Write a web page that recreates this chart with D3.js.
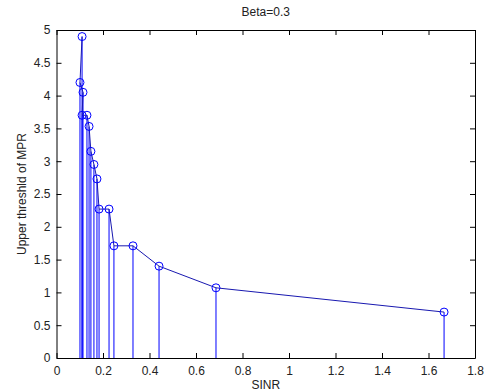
<!DOCTYPE html>
<html>
<head>
<meta charset="utf-8">
<script src="https://cdn.jsdelivr.net/npm/d3@7"></script>
<style>
  html, body { margin: 0; padding: 0; background: #fff; }
  text { font-family: "Liberation Sans", Arial, sans-serif; fill: #222; }
</style>
</head>
<body>
<svg id="chart" width="484" height="391"></svg>
<script>
// Stem plot of upper MPR threshold vs SINR, Beta = 0.3 (MATLAB style)

const sinr = [0.110, 0.101, 0.114, 0.110, 0.131, 0.140, 0.148, 0.161,
              0.174, 0.183, 0.226, 0.247, 0.329, 0.441, 0.686, 1.667];
const mpr = [4.9, 4.2, 4.05, 3.7, 3.7, 3.53, 3.15, 2.95,
             2.73, 2.27, 2.27, 1.71, 1.71, 1.4, 1.07, 0.7];
const xTicks = [0, 0.2, 0.4, 0.6, 0.8, 1, 1.2, 1.4, 1.6, 1.8];
const yTicks = [0, 0.5, 1, 1.5, 2, 2.5, 3, 3.5, 4, 4.5, 5];

const margin = { left: 56.5, right: 9, top: 30, bottom: 33 };
const W = 484, H = 391;
const width = W - margin.left - margin.right;
const height = H - margin.top - margin.bottom;

const svg = d3.select("#chart");
const g = svg.append("g").attr("transform", `translate(${margin.left},${margin.top})`);

const x = d3.scaleLinear().domain([0, 1.8]).range([0, width]);
const y = d3.scaleLinear().domain([0, 5]).range([height, 0]);

const fmt = (d) => String(d);
const tickLen = 5;

// axes, MATLAB ticks point inward
const axBottom = g.append("g").attr("transform", `translate(0,${height})`)
  .call(d3.axisBottom(x).tickValues(xTicks).tickFormat(fmt).tickSizeInner(-tickLen).tickSizeOuter(0).tickPadding(8));
const axTop = g.append("g")
  .call(d3.axisTop(x).tickValues(xTicks).tickFormat("").tickSizeInner(-tickLen).tickSizeOuter(0));
const axLeft = g.append("g")
  .call(d3.axisLeft(y).tickValues(yTicks).tickFormat(fmt).tickSizeInner(-tickLen).tickSizeOuter(0).tickPadding(6));
const axRight = g.append("g").attr("transform", `translate(${width},0)`)
  .call(d3.axisRight(y).tickValues(yTicks).tickFormat("").tickSizeInner(-tickLen).tickSizeOuter(0));

[axBottom, axTop, axLeft, axRight].forEach((a) => {
  a.selectAll(".domain").attr("stroke", "#000");
  a.selectAll(".tick line").attr("stroke", "#000");
  a.selectAll("text").style("font-size", "12px").attr("fill", "#222");
});

const pts = sinr.map((v, i) => ({ x: v, y: mpr[i] }));

// stems
g.selectAll(".stem")
  .data(pts)
  .join("line")
  .attr("class", "stem")
  .attr("x1", (d) => x(d.x)).attr("x2", (d) => x(d.x))
  .attr("y1", y(0)).attr("y2", (d) => y(d.y))
  .attr("stroke", "#0000ff")
  .attr("stroke-width", 1);

// connecting line
g.append("path")
  .datum(pts)
  .attr("fill", "none")
  .attr("stroke", "#1818b0")
  .attr("stroke-width", 1)
  .attr("d", d3.line().x((d) => x(d.x)).y((d) => y(d.y)));

// markers
g.selectAll(".mark")
  .data(pts)
  .join("circle")
  .attr("class", "mark")
  .attr("cx", (d) => x(d.x))
  .attr("cy", (d) => y(d.y))
  .attr("r", 4)
  .attr("fill", "none")
  .attr("stroke", "#0000ff")
  .attr("stroke-width", 1);

// labels
svg.append("text")
  .attr("x", margin.left + width / 2)
  .attr("y", 16)
  .attr("text-anchor", "middle")
  .style("font-size", "12px")
  .text("Beta=0.3");

svg.append("text")
  .attr("x", margin.left + width / 2)
  .attr("y", 389)
  .attr("text-anchor", "middle")
  .style("font-size", "12px")
  .text("SINR");

svg.append("text")
  .attr("transform", `translate(26,${margin.top + height / 2}) rotate(-90)`)
  .attr("text-anchor", "middle")
  .style("font-size", "12px")
  .text("Upper threshld of MPR");
</script>
</body>
</html>
